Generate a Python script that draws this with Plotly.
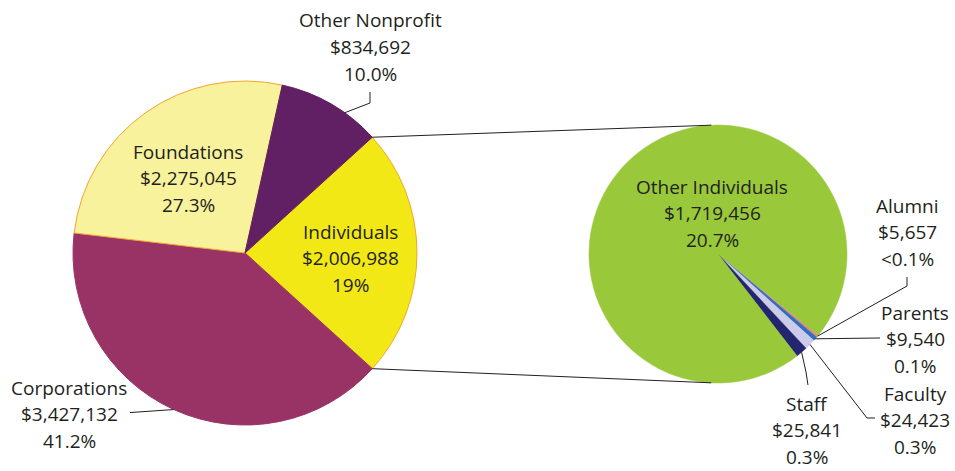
import math
import plotly.graph_objects as go

W, H = 955, 471

# ---- data ----
main_labels = ["Individuals", "Corporations", "Foundations", "Other Nonprofit"]
main_values = [2006988, 3427132, 2275045, 834692]
main_pcts = ["19%", "41.2%", "27.3%", "10.0%"]
main_colors = ["#F2E815", "#993366", "#F7F29B", "#612063"]

sub_labels = ["Alumni", "Parents", "Faculty", "Staff", "Other Individuals"]
sub_values = [5657, 9540, 24423, 25841, 1719456]
sub_pcts = ["<0.1%", "0.1%", "0.3%", "0.3%", "20.7%"]
sub_colors = ["#EE8677", "#2F6EC1", "#CDCCE8", "#23266F", "#99C93B"]

TEXT = "#231F20"
FONT = "Open Sans"
FS = 19
LH = 26.5  # px between text lines

# ---- geometry (pixels) ----
L_CX, L_CY, L_R = 245, 253, 172
R_CX, R_CY, R_R = 718, 254, 129
L_ROT = 47.7   # clockwise from 12 o'clock, start of first slice
R_ROT = 129.0


def px(x):
    return x / W


def py(y):
    return 1 - y / H


def slice_angles(values, rot):
    tot = sum(values)
    out, a = [], rot
    for v in values:
        span = 360.0 * v / tot
        out.append((a, a + span))
        a += span
    return out


def pt(cx, cy, r, ang):
    t = math.radians(ang)
    return cx + r * math.sin(t), cy - r * math.cos(t)


fig = go.Figure()

line_main = ["#F2A531", "#993366", "#F2A531", "#612063"]
fig.add_trace(go.Pie(
    labels=main_labels, values=main_values, sort=False, direction="clockwise",
    rotation=L_ROT, textinfo="none", hoverinfo="label+value",
    marker=dict(colors=main_colors, line=dict(color=line_main, width=1)),
    domain=dict(x=[px(L_CX - L_R), px(L_CX + L_R)], y=[py(L_CY + L_R), py(L_CY - L_R)]),
    showlegend=False,
))
fig.add_trace(go.Pie(
    labels=sub_labels, values=sub_values, sort=False, direction="clockwise",
    rotation=R_ROT, textinfo="none", hoverinfo="label+value",
    marker=dict(colors=sub_colors, line=dict(color=sub_colors, width=0.5)),
    domain=dict(x=[px(R_CX - R_R), px(R_CX + R_R)], y=[py(R_CY + R_R), py(R_CY - R_R)]),
    showlegend=False,
))

annotations = []


def add_label(lines, x, y):
    n = len(lines)
    for i, t in enumerate(lines):
        annotations.append(dict(
            text=t, x=px(x), y=py(y), xref="paper", yref="paper",
            xanchor="center", yanchor="middle", showarrow=False,
            yshift=-(i - (n - 1) / 2) * LH,
            font=dict(family=FONT, size=FS, color=TEXT),
        ))


def money(v):
    return "${:,}".format(v)


main_pos = [(350, 258), (69, 414), (188, 178), (370, 47)]
for lab, v, p, (x, y) in zip(main_labels, main_values, main_pcts, main_pos):
    add_label([lab, money(v), p], x, y)

sub_pos = [(907, 232), (915, 339), (915, 420), (807, 430), (712, 213)]
for lab, v, p, (x, y) in zip(sub_labels, sub_values, sub_pcts, sub_pos):
    add_label([lab, money(v), p], x, y)

shapes = []


def path(points):
    d = "M " + " L ".join("{:.5f},{:.5f}".format(px(x), py(y)) for x, y in points)
    shapes.append(dict(type="path", path=d, xref="paper", yref="paper",
                       line=dict(color=TEXT, width=1)))


ma = slice_angles(main_values, L_ROT)
sa = slice_angles(sub_values, R_ROT)

# connector lines between pies (edges of Individuals slice)
path([pt(L_CX, L_CY, L_R, ma[0][0]), pt(R_CX, R_CY, R_R, -3)])
path([pt(L_CX, L_CY, L_R, ma[0][1]), pt(R_CX, R_CY, R_R, 183)])

# leader lines, main pie
a0, a1 = ma[3]
path([pt(L_CX, L_CY, L_R, a0 + 0.65 * (a1 - a0)), (370, 103), (370, 92)])
a0, a1 = ma[1]
s = pt(L_CX, L_CY, L_R, (a0 + a1) / 2)
path([(130, s[1] + 3), s])

# leader lines, sub pie
mid = [pt(R_CX, R_CY, R_R, (b0 + b1) / 2) for b0, b1 in sa]
path([mid[0], (907, 286), (907, 277)])
path([mid[1], (880, 338)])
path([mid[2], (867, 418), (875, 418)])
path([mid[3], (806, 372), (808, 385)])

fig.update_layout(
    width=W, height=H, margin=dict(l=0, r=0, t=0, b=0),
    paper_bgcolor="white", plot_bgcolor="white",
    annotations=annotations, shapes=shapes,
)

fig.write_html(
    "out.html",
    config={"displayModeBar": False},
    post_script="document.body.style.margin='0';document.body.style.overflow='hidden';",
)
